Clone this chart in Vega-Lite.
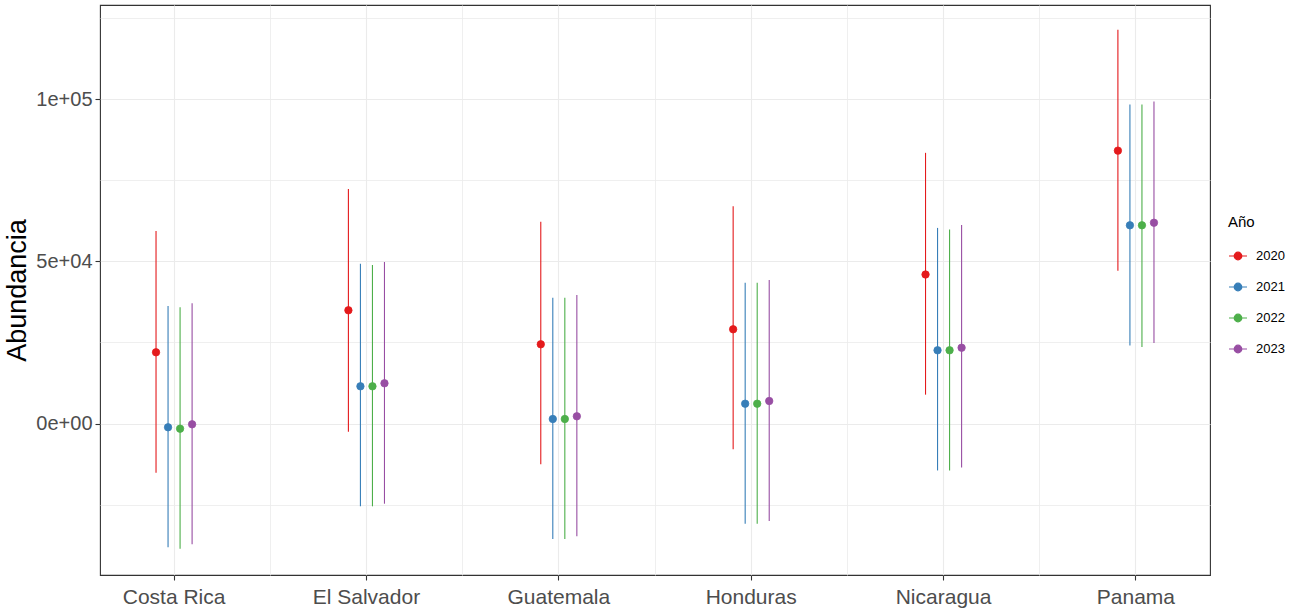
{
  "$schema": "https://vega.github.io/schema/vega-lite/v6.json",
  "width": 1110,
  "height": 570,
  "autosize": {"type": "none"},
  "padding": {"left": 100, "top": 5, "right": 81, "bottom": 36},
  "background": "white",
  "config": {
    "font": "Liberation Sans",
    "view": {"stroke": "#333333", "strokeWidth": 1.1},
    "axis": {"domain": false, "gridColor": "#EBEBEB", "gridWidth": 1.1, "tickColor": "#333333", "tickSize": 5, "tickWidth": 1.1, "labelColor": "#4D4D4D", "labelFont": "Liberation Sans", "titleFont": "Liberation Sans"}
  },
  "data": {
    "values": [
      {"pais": "Costa Rica", "anio": "2020", "est": 21960, "lo": -15170, "hi": 59380},
      {"pais": "Costa Rica", "anio": "2021", "est": -1170, "lo": -38190, "hi": 36240},
      {"pais": "Costa Rica", "anio": "2022", "est": -1600, "lo": -38620, "hi": 35830},
      {"pais": "Costa Rica", "anio": "2023", "est": -250, "lo": -37270, "hi": 37070},
      {"pais": "El Salvador", "anio": "2020", "est": 34920, "lo": -2530, "hi": 72340},
      {"pais": "El Salvador", "anio": "2021", "est": 11470, "lo": -25540, "hi": 49290},
      {"pais": "El Salvador", "anio": "2022", "est": 11470, "lo": -25540, "hi": 48890},
      {"pais": "El Salvador", "anio": "2023", "est": 12400, "lo": -24740, "hi": 49820},
      {"pais": "Guatemala", "anio": "2020", "est": 24430, "lo": -12590, "hi": 62250},
      {"pais": "Guatemala", "anio": "2021", "est": 1390, "lo": -35630, "hi": 38800},
      {"pais": "Guatemala", "anio": "2022", "est": 1390, "lo": -35630, "hi": 38800},
      {"pais": "Guatemala", "anio": "2023", "est": 2220, "lo": -34790, "hi": 39640},
      {"pais": "Honduras", "anio": "2020", "est": 29060, "lo": -7960, "hi": 67000},
      {"pais": "Honduras", "anio": "2021", "est": 6110, "lo": -30910, "hi": 43430},
      {"pais": "Honduras", "anio": "2022", "est": 6110, "lo": -30910, "hi": 43430},
      {"pais": "Honduras", "anio": "2023", "est": 6940, "lo": -30070, "hi": 44260},
      {"pais": "Nicaragua", "anio": "2020", "est": 45960, "lo": 8900, "hi": 83490},
      {"pais": "Nicaragua", "anio": "2021", "est": 22580, "lo": -14480, "hi": 60330},
      {"pais": "Nicaragua", "anio": "2022", "est": 22580, "lo": -14480, "hi": 59880},
      {"pais": "Nicaragua", "anio": "2023", "est": 23380, "lo": -13570, "hi": 61250},
      {"pais": "Panama", "anio": "2020", "est": 84170, "lo": 47100, "hi": 121460},
      {"pais": "Panama", "anio": "2021", "est": 61130, "lo": 24070, "hi": 98430},
      {"pais": "Panama", "anio": "2022", "est": 61130, "lo": 23610, "hi": 98430},
      {"pais": "Panama", "anio": "2023", "est": 61930, "lo": 24860, "hi": 99340}
    ]
  },
  "layer": [
    {
      "mark": {"type": "point", "opacity": 0},
      "encoding": {
        "x": {"field": "pais", "type": "nominal", "sort": null, "scale": {"type": "band", "paddingInner": 0.75, "paddingOuter": 0.26},
              "axis": {"orient": "bottom", "values": ["Costa Rica", "El Salvador", "Guatemala", "Honduras", "Nicaragua"], "bandPosition": 2.5, "grid": true, "gridWidth": 0.8, "labels": false, "ticks": false, "title": null}},
        "xOffset": {"field": "anio", "type": "nominal", "scale": {"paddingInner": 0, "paddingOuter": 0}},
        "y": {"field": "est", "type": "quantitative", "scale": {"domain": [-46730, 129090], "nice": false, "zero": false},
              "axis": {"orient": "left", "values": [-25000, 25000, 75000, 125000], "grid": true, "gridWidth": 0.8, "labels": false, "ticks": false, "title": null}}
      }
    },
    {
      "mark": {"type": "rule", "strokeWidth": 1.1},
      "encoding": {
        "x": {"field": "pais", "type": "nominal", "sort": null,
              "axis": {"orient": "bottom", "bandPosition": 0.5, "grid": true, "labelAngle": 0, "labelFontSize": 21, "labelPadding": 6, "title": null}},
        "xOffset": {"field": "anio", "type": "nominal"},
        "y": {"field": "lo", "type": "quantitative",
              "axis": {"orient": "left", "values": [0, 50000, 100000], "grid": true, "labelFontSize": 20, "labelPadding": 3,
                       "labelExpr": "datum.value == 0 ? '0e+00' : (datum.value == 50000 ? '5e+04' : '1e+05')",
                       "title": "Abundancia", "titleFontSize": 27, "titleFontWeight": "normal", "titleColor": "#000000", "titlePadding": 4}},
        "y2": {"field": "hi"},
        "stroke": {"field": "anio", "type": "nominal", "scale": {"domain": ["2020", "2021", "2022", "2023"], "range": ["#E41A1C", "#377EB8", "#4DAF4A", "#984EA3"]},
                   "legend": {"title": "Año", "orient": "none", "legendX": 1128, "legendY": 210, "padding": 0, "titleFontSize": 15, "titleFontWeight": "normal", "titleColor": "#000000", "titlePadding": 16, "labelFontSize": 13, "labelColor": "#000000", "labelOffset": 8, "rowPadding": 14, "symbolSize": 324, "symbolStrokeWidth": 1.2,
                              "symbolType": "M-1,0L1,0M-0.42,0A0.42,0.42,0,1,1,0.42,0A0.42,0.42,0,1,1,-0.42,0Z"}}
      }
    },
    {
      "mark": {"type": "point", "filled": true, "size": 55, "strokeWidth": 0.8, "opacity": 1},
      "encoding": {
        "x": {"field": "pais", "type": "nominal", "sort": null, "axis": null},
        "xOffset": {"field": "anio", "type": "nominal"},
        "y": {"field": "est", "type": "quantitative", "axis": null},
        "fill": {"field": "anio", "type": "nominal", "scale": {"domain": ["2020", "2021", "2022", "2023"], "range": ["#E41A1C", "#377EB8", "#4DAF4A", "#984EA3"]},
                 "legend": {"title": "Año", "orient": "none", "legendX": 1128, "legendY": 210, "padding": 0, "titleFontSize": 15, "titleFontWeight": "normal", "titleColor": "#000000", "titlePadding": 16, "labelFontSize": 13, "labelColor": "#000000", "labelOffset": 8, "rowPadding": 14, "symbolSize": 324, "symbolStrokeWidth": 1.2,
                            "symbolType": "M-1,0L1,0M-0.42,0A0.42,0.42,0,1,1,0.42,0A0.42,0.42,0,1,1,-0.42,0Z"}},
        "stroke": {"field": "anio", "type": "nominal"}
      }
    }
  ],
  "resolve": {"axis": {"x": "independent", "y": "independent"}}
}
